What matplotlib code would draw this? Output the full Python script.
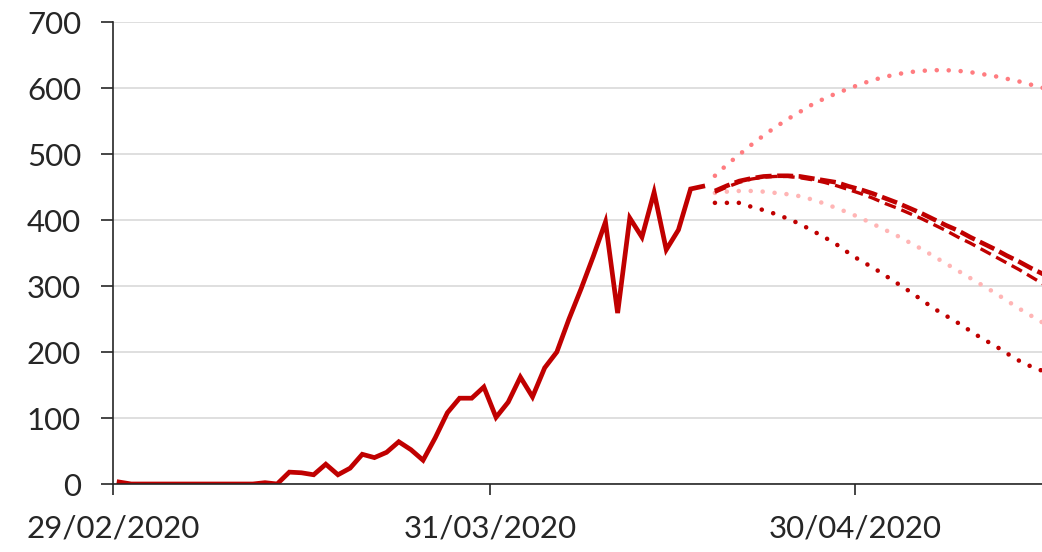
import matplotlib
matplotlib.use('Agg')
import matplotlib.pyplot as plt
import matplotlib.dates as mdates
import pandas as pd
import numpy as np

# daily values (29/02/2020 onwards)
actual = [3, 0, 0, 0, 0, 0, 0, 0, 0, 0, 0, 0, 2, 0,
          18, 17, 14, 30, 14, 24, 45, 40, 48, 64, 52, 36, 70, 108,
          130, 130, 147, 101, 124, 162, 132, 176, 200, 250, 296, 345,
          397, 259, 403, 374, 442, 355, 385, 447, 451]

# projections, starting the day after the last actual value
proj_high = [467, 484, 499, 514, 528, 541, 553, 564, 575, 584, 592, 599, 606, 612,
             617, 621, 624, 626, 627, 627, 626, 624, 621, 618, 614, 610, 605, 600]
proj_mid_a = [444, 452, 459, 463, 466, 467, 467, 466, 463, 460, 457, 451, 446, 440,
              433, 426, 418, 410, 401, 392, 384, 374, 365, 356, 346, 337, 327, 318]
proj_mid_b = [442, 450, 457, 462, 465, 466, 466, 464, 461, 457, 452, 446, 440, 433,
              425, 418, 410, 402, 393, 384, 374, 365, 355, 345, 335, 325, 314, 303]
proj_light = [441, 443, 444, 444, 443, 441, 439, 436, 431, 425, 418, 411, 403, 394,
              385, 376, 366, 356, 345, 334, 323, 312, 301, 290, 278, 266, 255, 244]
proj_low = [426, 426, 426, 420, 415, 409, 402, 394, 384, 374, 363, 350, 338, 328,
            316, 304, 292, 279, 266, 255, 244, 232, 220, 210, 198, 187, 178, 171]

tick_dates = ['2020-02-29', '2020-03-31', '2020-04-30']

start = pd.Timestamp('2020-02-29')
dates_act = pd.date_range(start, periods=len(actual))
dates_proj = pd.date_range(dates_act[-1] + pd.Timedelta(days=1), periods=len(proj_high))

# points sit in the middle of each day, like Excel's date axis
x_act = mdates.date2num(dates_act) + 0.5
x_proj = mdates.date2num(dates_proj) + 0.5

plt.rcParams['font.family'] = ['Lato', 'DejaVu Sans']

fig = plt.figure(figsize=(10.42, 5.52), dpi=100)
ax = fig.add_axes([113 / 1042, 68 / 552, 929 / 1042, 462 / 552])

red = '#C00000'
dot = (0, (0.01, 2.6))

ax.plot(x_proj, proj_high, color='#FF7C80', lw=3.3, linestyle=dot, dash_capstyle='round')
ax.plot(x_proj, proj_light, color='#FFB5B5', lw=3.3, linestyle=dot, dash_capstyle='round')
ax.plot(x_proj, proj_low, color=red, lw=3.3, linestyle=dot, dash_capstyle='round')
ax.plot(x_proj, proj_mid_b, color=red, lw=2.4, linestyle=(0, (3.5, 1.8)))
ax.plot(x_proj, proj_mid_a, color=red, lw=3.3, linestyle=(0, (3.5, 1.2)))
ax.plot(x_act, actual, color=red, lw=3.4, solid_joinstyle='miter')

x0 = mdates.date2num(start)
ax.set_xlim(x0, x0 + 76.4)
ax.set_ylim(0, 700)
ax.set_yticks(np.arange(0, 701, 100))
ax.set_xticks(mdates.date2num(pd.to_datetime(tick_dates)))
ax.xaxis.set_major_formatter(mdates.DateFormatter('%d/%m/%Y'))

ax.grid(axis='y', color='#D9D9D9', lw=1.2)
ax.set_axisbelow(True)
for s in ['top', 'right']:
    ax.spines[s].set_visible(False)
for s in ['left', 'bottom']:
    ax.spines[s].set_color('#262626')
    ax.spines[s].set_linewidth(1.2)

ax.tick_params(axis='y', direction='out', length=9, width=1.2, pad=14,
               labelsize=22.5, colors='#262626')
ax.tick_params(axis='x', direction='out', length=8, width=1.2, pad=14,
               labelsize=22.5, colors='#262626')

plt.savefig('out.png', dpi=100)
